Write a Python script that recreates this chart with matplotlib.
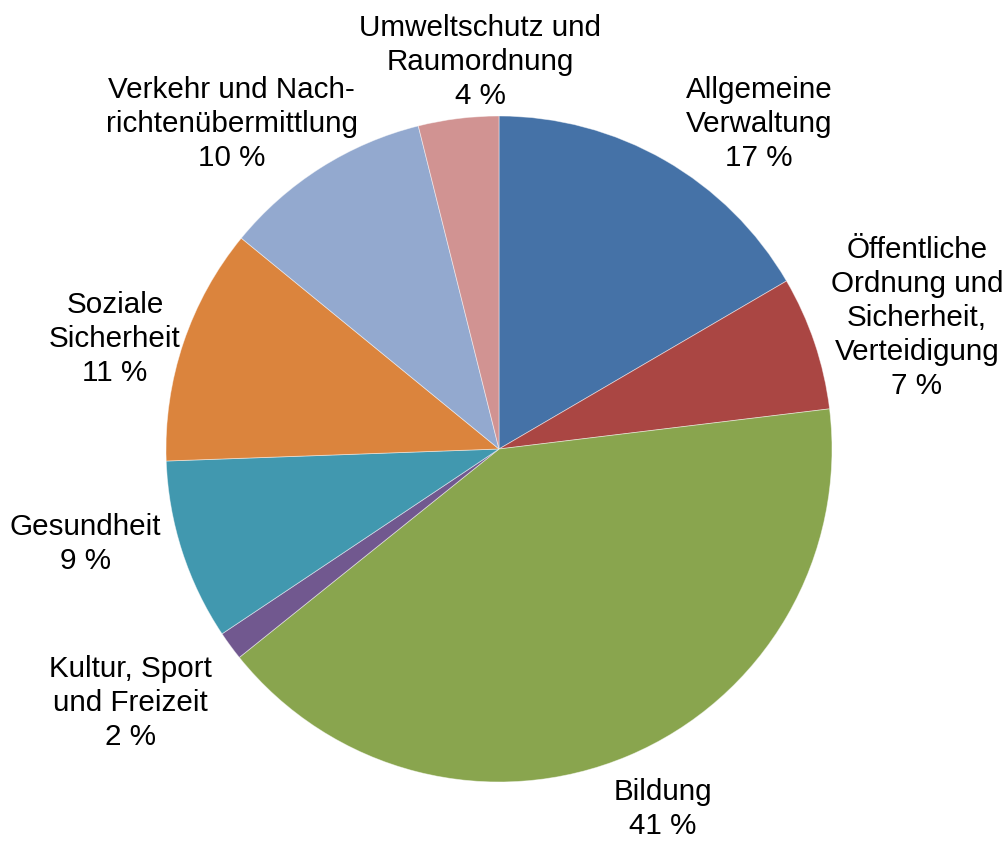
import matplotlib.pyplot as plt

labels = ['Allgemeine\nVerwaltung\n17 %',
          'Öffentliche\nOrdnung und\nSicherheit,\nVerteidigung\n7 %',
          'Bildung\n41 %',
          'Kultur, Sport\nund Freizeit\n2 %',
          'Gesundheit\n9 %',
          'Soziale\nSicherheit\n11 %',
          'Verkehr und Nach-\nrichtenübermittlung\n10 %',
          'Umweltschutz und\nRaumordnung\n4 %']
values = [16.6, 6.5, 41.2, 1.4, 8.8, 11.5, 10.2, 3.9]
colors = ['#4572A7', '#AA4643', '#89A54E', '#71588F',
          '#4198AF', '#DB843D', '#93A9CF', '#D19392']

# label centres in data units (pie radius = 1)
label_pos = [(0.781, 0.976), (1.255, 0.393), (0.492, -1.080), (-1.108, -0.763),
             (-1.243, -0.285), (-1.153, 0.330), (-0.802, 0.976), (-0.057, 1.162)]

plt.rcParams['font.family'] = ['Liberation Sans', 'DejaVu Sans']

fig = plt.figure(figsize=(10.05, 8.41), dpi=100)
ax = fig.add_axes([0, 0, 1, 1])
ax.pie(values, colors=colors, startangle=90, counterclock=False,
       wedgeprops=dict(edgecolor=(1, 1, 1, 0.5), linewidth=0.6))

for txt, (x, y) in zip(labels, label_pos):
    ax.text(x, y, txt, ha='center', va='center', fontsize=21.3,
            linespacing=1.27, color='black')

r = 333.0
ax.set_xlim(-499 / r, (1005 - 499) / r)
ax.set_ylim(-(841 - 449) / r, 449 / r)
ax.set_aspect('equal')
ax.axis('off')

fig.savefig('out.png', dpi=100)
